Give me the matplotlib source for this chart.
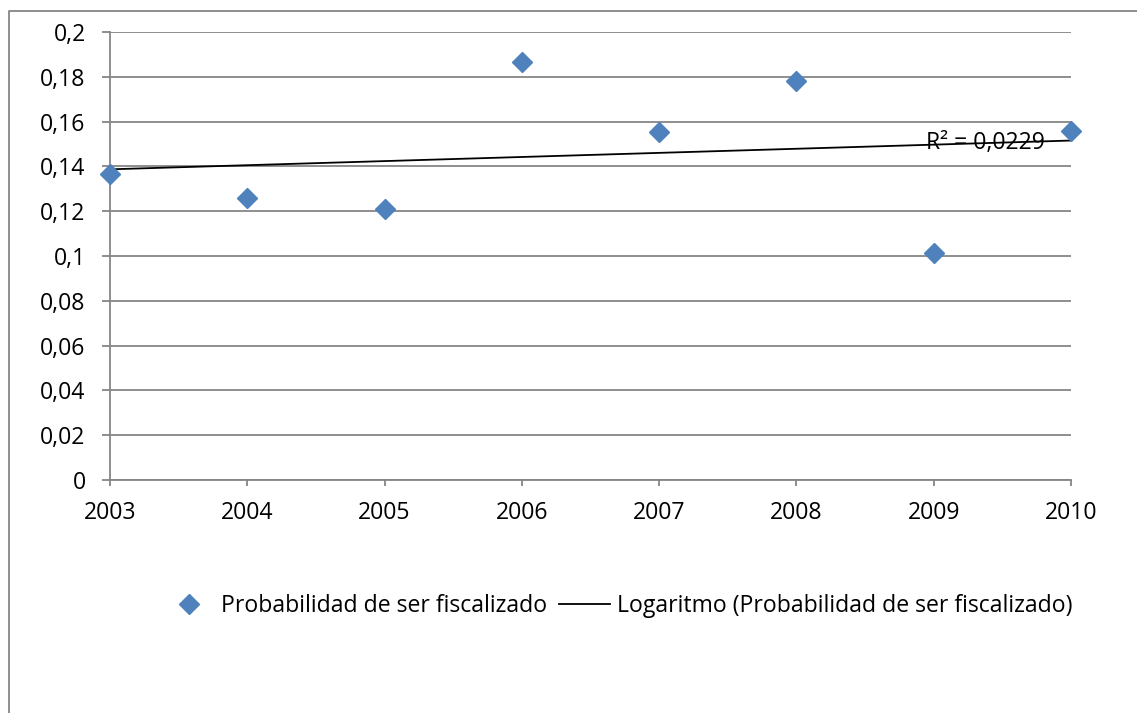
import matplotlib.pyplot as plt
import numpy as np
from matplotlib.lines import Line2D

years = [2003, 2004, 2005, 2006, 2007, 2008, 2009, 2010]
prob = [0.1365, 0.126, 0.121, 0.1865, 0.1555, 0.178, 0.1015, 0.156]
yticks = [0, 0.02, 0.04, 0.06, 0.08, 0.1, 0.12, 0.14, 0.16, 0.18, 0.2]
r2_label = "R² = 0,0229"

plt.rcParams["font.family"] = ["Open Sans", "DejaVu Sans"]
fs = 16.6

fig = plt.figure(figsize=(11.37, 7.13), dpi=100)
ax = fig.add_axes([110 / 1137, 1 - 480 / 713, (1071 - 110) / 1137, (480 - 32) / 713])

grid_c = "#868686"

# logarithmic trendline fitted to the data, as Excel does
a, b = np.polyfit(np.log(years), prob, 1)
xs = np.linspace(years[0], years[-1], 200)
ax.plot(xs, a * np.log(xs) + b, color="black", lw=1.3, zorder=3,
        label="Logaritmo (Probabilidad de ser fiscalizado)")
ax.plot(years, prob, "D", color="#4F81BD", markersize=10.5, zorder=4,
        label="Probabilidad de ser fiscalizado", clip_on=False)

ax.set_xlim(2003, 2010)
ax.set_ylim(0, 0.2)
ax.set_xticks(years)
ax.set_yticks(yticks)
ax.set_yticklabels([f"{v:g}".replace(".", ",") for v in yticks])
ax.yaxis.grid(True, color=grid_c, lw=1.3)
ax.set_axisbelow(True)
for s in ["top", "right"]:
    ax.spines[s].set_visible(False)
for s in ["left", "bottom"]:
    ax.spines[s].set_color(grid_c)
    ax.spines[s].set_linewidth(1.3)
ax.tick_params(axis="y", length=5.5, width=1.3, color=grid_c, labelsize=fs, pad=12)
ax.tick_params(axis="x", length=4, width=1.3, color=grid_c, labelsize=fs, pad=11)

ax.text(2009.38, 0.1505, r2_label, fontsize=fs, ha="center", va="center", zorder=5)

handles, labels = ax.get_legend_handles_labels()
fig.legend(handles[::-1], labels[::-1], loc="center", bbox_to_anchor=(618 / 1137, 1 - 606 / 713),
           ncol=2, frameon=False, fontsize=fs, handlelength=2.2, columnspacing=0.5,
           handletextpad=0.3)

# outer chart border (left and top visible)
fig.add_artist(Line2D([8.5 / 1137, 8.5 / 1137, 1], [0, 1 - 11 / 713, 1 - 11 / 713],
                      transform=fig.transFigure, color=grid_c, lw=1.3))

fig.savefig("out.png", dpi=100)
